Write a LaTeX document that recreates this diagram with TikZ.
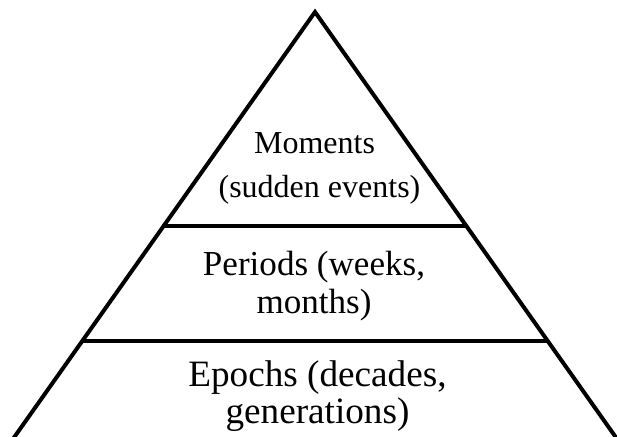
\documentclass[tikz,border=0pt]{standalone}
\usepackage{fontspec}
\setmainfont{Liberation Serif}
\begin{document}
\begin{tikzpicture}[x=0.75pt,y=-0.75pt,
  edge/.style={line width=3pt,line join=miter},
  small/.style={font=\fontsize{24}{28}\selectfont,anchor=base,inner sep=0pt},
  mid/.style={font=\fontsize{26.3}{30}\selectfont,anchor=base,inner sep=0pt},
  big/.style={font=\fontsize{27.9}{32}\selectfont,anchor=base,inner sep=0pt}]
\useasboundingbox (0,0) rectangle (617,436);
\coordinate (apex) at (315,12);
\coordinate (bl) at (8,446);
\coordinate (br) at (622,446);
\coordinate (t1l) at (164,226);
\coordinate (t1r) at (466,226);
\coordinate (t2l) at (83,341);
\coordinate (t2r) at (548,341);
\draw[edge] (bl) -- (apex) -- (br);
\draw[edge] (t1l) -- (t1r);
\draw[edge] (t2l) -- (t2r);
\node[small] (m1) at (314.5,153) {Moments};
\node[small] (m2) at (319.5,197) {(sudden events)};
\node[mid] (p1) at (314,275) {Periods (weeks,};
\node[mid] (p2) at (314,313) {months)};
\node[big] (e1) at (317.5,386) {Epochs (decades,};
\node[big] (e2) at (317.5,423) {generations)};
\end{tikzpicture}
\end{document}
